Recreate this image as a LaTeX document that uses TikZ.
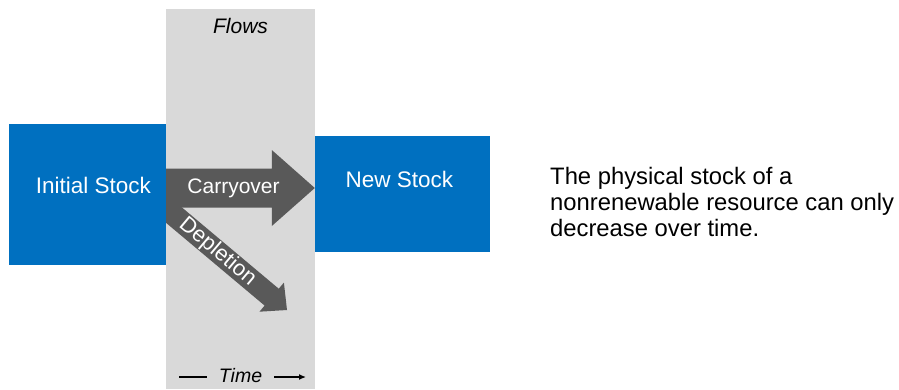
\documentclass[tikz,border=0pt]{standalone}
\usepackage{fontspec}
\setmainfont{Liberation Sans}
\usetikzlibrary{arrows.meta,calc,backgrounds}
\definecolor{ink}{HTML}{000000}
\definecolor{stock}{HTML}{0070C0}
\definecolor{band}{HTML}{D9D9D9}
\definecolor{flowfill}{HTML}{595959}
% block arrow: tail, tip, half shaft, half head, head length
\newcommand{\blockarrow}[5]{%
  \path ($(#2)!#5!(#1)$) coordinate (#2-base);
  \fill[flowfill] ($(#1)!#3!90:(#2)$) -- ($(#2-base)!#3!90:(#2)$)
    -- ($(#2-base)!#4!90:(#2)$) -- (#2) -- ($(#2-base)!#4!-90:(#2)$)
    -- ($(#2-base)!#3!-90:(#2)$) -- ($(#1)!#3!-90:(#2)$) -- cycle;}

\begin{document}
\begin{tikzpicture}[x=1pt,y=-1pt,
  font=\fontsize{22.5}{27}\selectfont, text=ink,
  stockbox/.style={fill=stock,draw=none,inner sep=0pt},
  boxtext/.style={text=white,inner sep=0pt},
  flowtext/.style={text=white,inner sep=0pt,font=\fontsize{21}{25}\selectfont},
  bandtext/.style={inner sep=0pt,font=\itshape\fontsize{21}{25}\selectfont},
  timeline/.style={draw=ink,line width=1.3pt},
  notetext/.style={align=left,inner sep=0pt,font=\fontsize{23.8}{26}\selectfont}
]
\useasboundingbox (0,0) rectangle (899,389);
% Stocks on both sides of the flow band.
\node[stockbox,minimum width=157pt,minimum height=141pt] (init) at (87.5,194.5) {};
\node[stockbox,minimum width=175pt,minimum height=116pt] (new) at (402.5,194) {};
\node[boxtext] (initlabel) at (93.5,185) {Initial Stock};
\node[boxtext] (newlabel) at (399.5,179) {New Stock};
% Band and block arrows sit under the stocks.
\begin{scope}[on background layer]
  \node[fill=band,inner sep=0pt,minimum width=149pt,minimum height=380pt] (flowband) at (240.5,199) {};
  \coordinate (carryTip) at ([yshift=6pt]new.west);
  \coordinate (carryTail) at (init.east |- carryTip);
  \blockarrow{carryTail}{carryTip}{19.5pt}{38pt}{43pt}
  \coordinate (depTail) at (160.6,203.9);
  \coordinate (depTip) at (287,310);
  \blockarrow{depTail}{depTip}{11pt}{19pt}{20pt}
\end{scope}
\path (carryTail) -- node[flowtext,pos=0.453] (carrylabel) {Carryover} (carryTip);
\path (depTail) -- node[flowtext,pos=0.45,sloped,font=\fontsize{22}{26}\selectfont] (deplabel) {Depletion} (depTip);
% Band captions.
\node[bandtext] (flows) at (240.5,25.8) {Flows};
\node[bandtext,font=\itshape\fontsize{19.5}{23}\selectfont,inner xsep=12pt] (time) at (240.5,375.2) {Time};
\coordinate (timeStart) at (179,377);
\coordinate (timeEnd) at (306,377);
\draw[timeline] (timeStart) -- (timeStart -| time.west);
\draw[timeline,-{Latex[length=7pt,width=6pt]}] (timeStart -| time.east) -- (timeEnd);
\node[notetext,anchor=west] (note) at (550,202)
  {The physical stock of a\\nonrenewable resource can only\\decrease over time.};
\end{tikzpicture}
\end{document}
